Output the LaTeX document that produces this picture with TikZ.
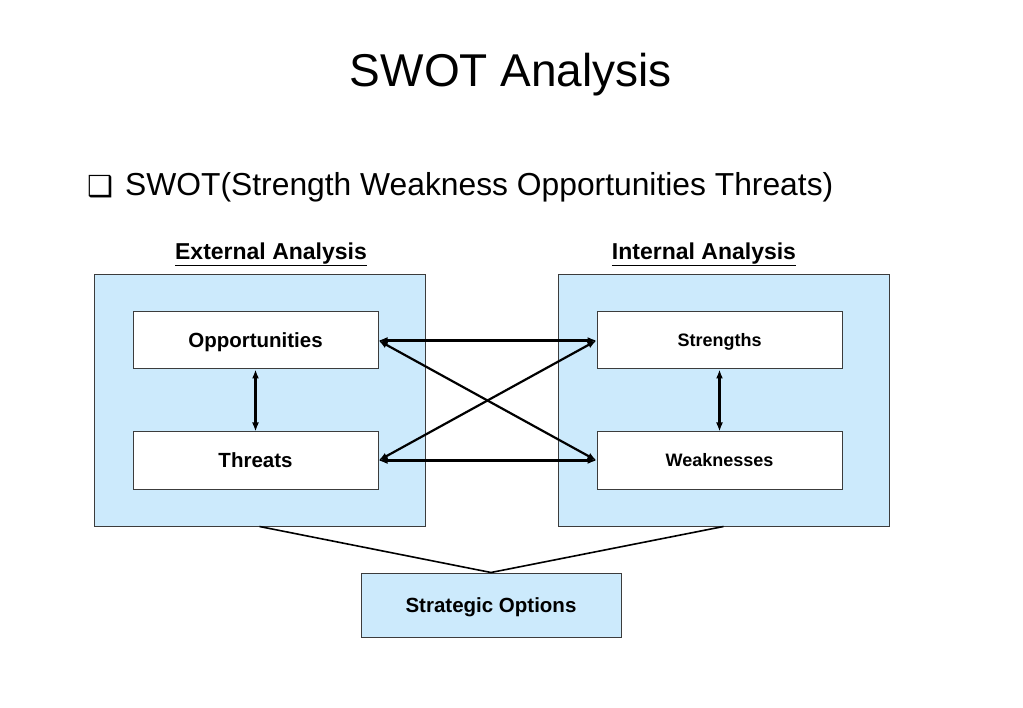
\documentclass[tikz,border=0pt]{standalone}
\usepackage{fontspec}
\setmainfont{Liberation Sans}
\newfontfamily\symfont{DejaVu Sans}
\usetikzlibrary{arrows.meta,positioning}

\definecolor{swotblue}{RGB}{204,234,252}
\definecolor{edgegray}{RGB}{60,60,60}

\begin{document}
\begin{tikzpicture}[
  x=1pt, y=-1pt,
  >={Latex[length=9pt,width=7pt]},
  every node/.style={inner sep=0pt, text depth=0pt},
  panel/.style={draw=edgegray, line width=1pt, fill=swotblue, minimum width=331pt, minimum height=251pt},
  item/.style={draw=edgegray, line width=1pt, fill=white, minimum width=245pt, minimum height=57pt,
    text height=14.7pt, font=\fontsize{20.5}{24}\selectfont\bfseries},
  smallitem/.style={item, text height=12.9pt, font=\fontsize{18}{22}\selectfont\bfseries},
  heading/.style={text height=16.5pt, font=\fontsize{23}{27}\selectfont\bfseries},
  link/.style={<->, line width=2.2pt},
  joinline/.style={line width=1.6pt}
]
\useasboundingbox (0,0) rectangle (1023,708);

% titles
\node[text height=33pt] (title) at (511,70) {\fontsize{46}{52}\selectfont SWOT Analysis};
\node[anchor=west, text height=15pt] (bullet) at (87,189) {\symfont\fontsize{29}{32}\selectfont ❑};
\node[anchor=west, text height=22.8pt] (subtitle) at (125,184) {\fontsize{31.8}{36}\selectfont SWOT(Strength Weakness Opportunities Threats)};

% panels
\node[panel] (ext) at (259.5,400.5) {};
\node[panel] (int) at (723.5,400.5) {};
\node[heading] (exthead) at (271,251) {\underline{External Analysis}};
\node[heading] (inthead) at (704,251) {\underline{Internal Analysis}};

\node[item] (opp) at (255.5,340.5) {Opportunities};
\node[item] (thr) at (255.5,460.5) {Threats};
\node[smallitem] (str) at (719.5,340.5) {Strengths};
\node[smallitem] (weak) at (719.5,460.5) {Weaknesses};

\node[draw=edgegray, line width=1pt, fill=swotblue, minimum width=260pt, minimum height=64pt,
  text height=14.7pt, font=\fontsize{20.5}{24}\selectfont\bfseries] (opt) at (491,605) {Strategic Options};

% connectors
\draw[link] (opp) -- (thr);
\draw[link] (str) -- (weak);
\draw[link] (opp.east) -- (str.west);
\draw[link] (thr.east) -- (weak.west);
\draw[link] (opp.east) -- (weak.west);
\draw[link] (thr.east) -- (str.west);

\draw[joinline] (ext.south) -- (opt.north) -- (int.south);
\end{tikzpicture}
\end{document}
